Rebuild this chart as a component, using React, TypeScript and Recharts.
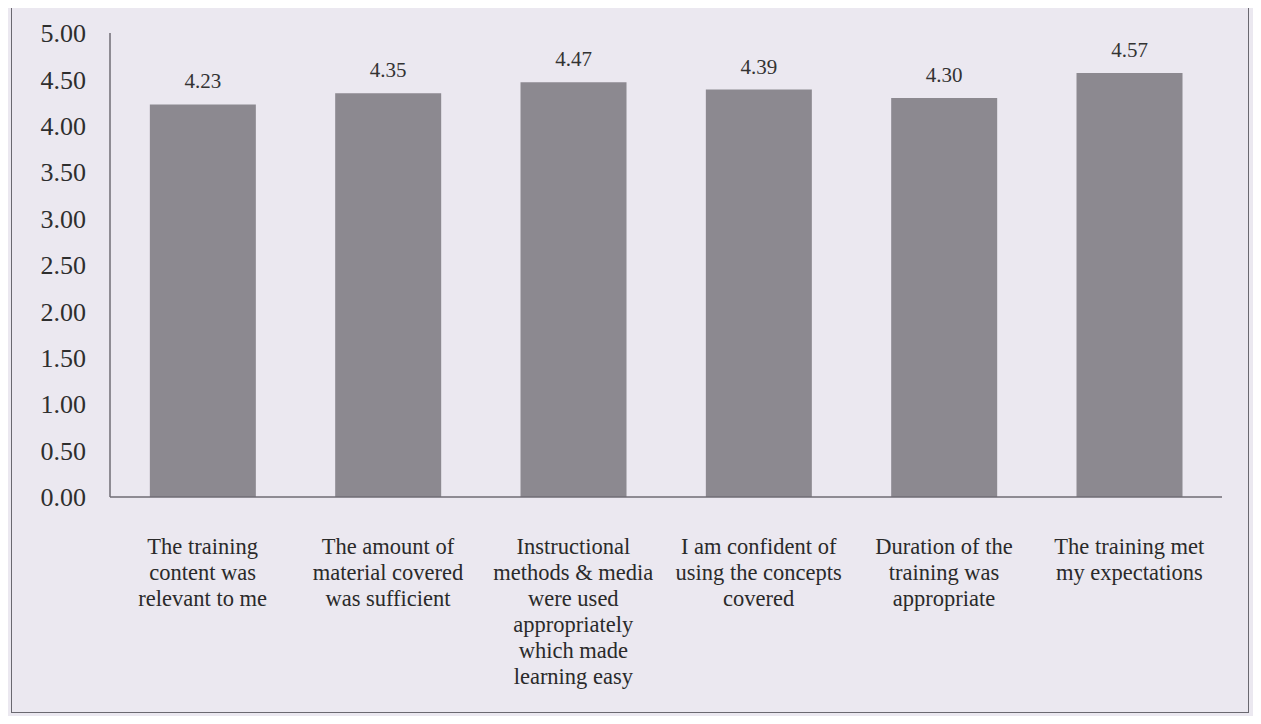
import { BarChart, Bar, XAxis, YAxis, LabelList } from 'recharts';

const categories = [
  'The training content was relevant to me',
  'The amount of material covered was sufficient',
  'Instructional methods & media were used appropriately which made learning easy',
  'I am confident of using the concepts covered',
  'Duration of the training was appropriate',
  'The training met my expectations',
];

// the line breaks as printed under each bar
const tickLines = [
  ['The training', 'content was', 'relevant to me'],
  ['The amount of', 'material covered', 'was sufficient'],
  ['Instructional', 'methods & media', 'were used', 'appropriately', 'which made', 'learning easy'],
  ['I am confident of', 'using the concepts', 'covered'],
  ['Duration of the', 'training was', 'appropriate'],
  ['The training met', 'my expectations'],
];

const scores = [4.23, 4.35, 4.47, 4.39, 4.3, 4.57];

const yTicks = [0, 0.5, 1, 1.5, 2, 2.5, 3, 3.5, 4, 4.5, 5];

const data = categories.map((name, i) => ({ name, idx: i, score: scores[i] }));

const FONT = '"Liberation Serif", "Times New Roman", serif';

const CategoryTick = ({ x, y, payload }: any) => {
  const lines = tickLines[payload.index] || [String(payload.value)];
  return (
    <text x={x} y={y + 49} textAnchor="middle" fill="#2a2a2a" fontSize={22.5} fontFamily={FONT}>
      {lines.map((line, i) => (
        <tspan key={i} x={x} dy={i === 0 ? 0 : 26}>
          {line}
        </tspan>
      ))}
    </text>
  );
};

export default function App() {
  return (
    <div
      style={{
        position: 'relative',
        width: 1261,
        height: 724,
        margin: -8,
        background: '#ebe8f0',
        overflow: 'hidden',
      }}
    >
      <div
        style={{
          position: 'absolute',
          left: 11,
          top: 5,
          width: 1236,
          height: 706,
          border: '1px solid #6a6870',
        }}
      />
      <div style={{ position: 'absolute', left: 0, top: 0 }}>
        <BarChart
          width={1261}
          height={724}
          data={data}
          margin={{ top: 33, right: 39, bottom: 27, left: 0 }}
          barCategoryGap="21.5%"
        >
          <XAxis
            dataKey="name"
            height={200}
            axisLine={{ stroke: '#6f6d74', strokeWidth: 1.5 }}
            tickLine={false}
            interval={0}
            tick={<CategoryTick />}
          />
          <YAxis
            width={110}
            domain={[0, 5]}
            ticks={yTicks}
            interval={0}
            axisLine={{ stroke: '#6f6d74', strokeWidth: 1.5 }}
            tickLine={false}
            tickMargin={18}
            tickFormatter={(v: number) => v.toFixed(2)}
            tick={{ fill: '#2e2e2e', fontSize: 26, fontFamily: FONT }}
          />
          <Bar dataKey="score" fill="#8c8990" isAnimationActive={false}>
            <LabelList
              dataKey="score"
              position="top"
              offset={16}
              formatter={(v: any) => Number(v).toFixed(2)}
              style={{ fill: '#333', fontSize: 21, fontFamily: FONT }}
            />
          </Bar>
        </BarChart>
      </div>
    </div>
  );
}
